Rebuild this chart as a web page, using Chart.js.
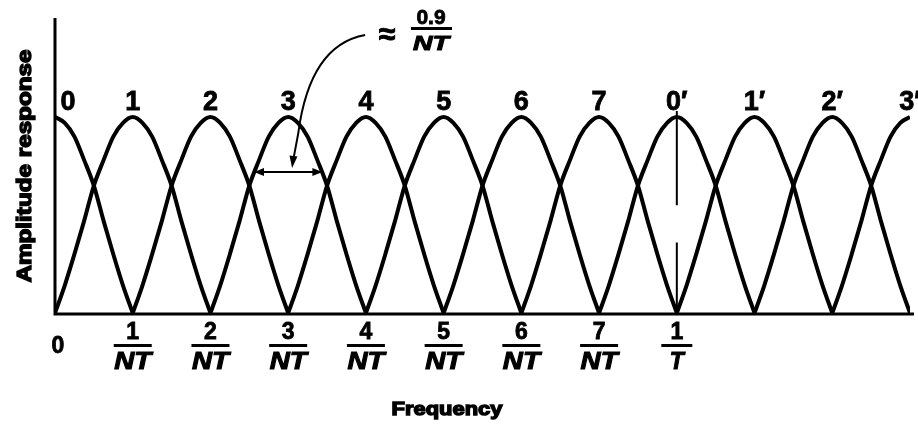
<!DOCTYPE html>
<html>
<head>
<meta charset="utf-8">
<script src="https://cdn.jsdelivr.net/npm/chart.js@4.4.1/dist/chart.umd.min.js"></script>
<style>
    body { margin: 0; background: #fff; }
    canvas { display: block; }
</style>
</head>
<body>
<canvas id="chart" width="918" height="430"></canvas>
<script>
// ===== Data =====
// filter centres in units of 1/NT (N = 8, so 8 is 1/T)
const lobeCenters = [0, 1, 2, 3, 4, 5, 6, 7, 8, 9, 10, 11];
const lobeNames = ["0", "1", "2", "3", "4", "5", "6", "7", "0\u2032", "1\u2032", "2\u2032", "3\u2032"];
// shape of one main lobe, offset from its centre -> relative amplitude
const lobeOffsets = [-1, -0.875, -0.75, -0.625, -0.5, -0.375, -0.25, -0.125, 0, 0.125, 0.25, 0.375, 0.5, 0.625, 0.75, 0.875, 1];
const lobeHeights = [0, 0.14, 0.30, 0.47, 0.65, 0.78, 0.90, 0.97, 1, 0.97, 0.90, 0.78, 0.65, 0.47, 0.30, 0.14, 0];
// x-axis tick labels (fractions)
const tickValues = [1, 2, 3, 4, 5, 6, 7, 8];
const tickNumerators = ["1", "2", "3", "4", "5", "6", "7", "1"];
const tickDenominators = ["NT", "NT", "NT", "NT", "NT", "NT", "NT", "T"];
const xMax = 11;

const FONT = "'Liberation Sans', Arial, sans-serif";

// draw text squeezed/stretched to a given width, optionally extra heavy
function stretchText(ctx, text, x, y, width, heavy) {
    const w = ctx.measureText(text).width;
    ctx.save();
    ctx.translate(x, y);
    ctx.scale(width / w, 1);
    ctx.textAlign = "center";
    ctx.fillText(text, 0, 0);
    if (heavy) {
        ctx.lineWidth = heavy;
        ctx.strokeText(text, 0, 0);
    }
    ctx.restore();
}

function heavyText(ctx, text, x, y, weight) {
    ctx.fillText(text, x, y);
    ctx.save();
    ctx.lineWidth = weight;
    ctx.strokeText(text, x, y);
    ctx.restore();
}

function arrowHead(ctx, x, y, angle, len, half) {
    ctx.save();
    ctx.translate(x, y);
    ctx.rotate(angle);
    ctx.beginPath();
    ctx.moveTo(0, 0);
    ctx.lineTo(-len, -half);
    ctx.lineTo(-len, half);
    ctx.closePath();
    ctx.fill();
    ctx.restore();
}

// ===== Axes, labels and notes =====
const decorations = {
    id: "decorations",
    afterDatasetsDraw(chart) {
        const { ctx, chartArea, scales } = chart;
        const X = v => scales.x.getPixelForValue(v);
        const Y = v => scales.y.getPixelForValue(v);
        ctx.save();
        ctx.fillStyle = "#000";
        ctx.strokeStyle = "#000";

        // axis lines
        ctx.lineWidth = 3;
        ctx.beginPath();
        ctx.moveTo(chartArea.left, chartArea.top - 1);
        ctx.lineTo(chartArea.left, chartArea.bottom + 1);
        ctx.lineTo(chartArea.right + 4, chartArea.bottom + 1);
        ctx.stroke();

        // lobe numbers
        ctx.font = "bold 27px " + FONT;
        ctx.textBaseline = "alphabetic";
        ctx.textAlign = "center";
        lobeCenters.forEach((c, i) => {
            const px = Math.max(X(c), chartArea.left + 13);
            heavyText(ctx, lobeNames[i], px, Y(1) - 7, 0.8);
        });

        // tick labels
        ctx.textBaseline = "middle";
        ctx.font = "bold 23px " + FONT;
        heavyText(ctx, "0", X(0) + 3, chartArea.bottom + 34, 0.8);
        tickValues.forEach((v, i) => {
            const px = X(v);
            const den = tickDenominators[i];
            const barW = den.length > 1 ? 38 : 31;
            ctx.font = "bold 23px " + FONT;
            heavyText(ctx, tickNumerators[i], px, chartArea.bottom + 20, 0.8);
            ctx.fillRect(px - barW / 2, chartArea.bottom + 31, barW, 3);
            ctx.font = "italic bold 23px " + FONT;
            stretchText(ctx, den, px, chartArea.bottom + 50, den.length > 1 ? 37 : 14, 1);
        });

        // axis titles
        ctx.font = "bold 19px " + FONT;
        stretchText(ctx, "Frequency", 447, 410, 111, 1.4);
        ctx.save();
        ctx.translate(25, 166);
        ctx.rotate(-Math.PI / 2);
        ctx.font = "bold 20px " + FONT;
        stretchText(ctx, "Amplitude response", 0, 0, 233, 1.4);
        ctx.restore();

        // marker at 1/T
        ctx.lineWidth = 2;
        ctx.beginPath();
        ctx.moveTo(X(8), Y(1.03));
        ctx.lineTo(X(8), Y(0.55));
        ctx.moveTo(X(8), Y(0.36));
        ctx.lineTo(X(8), Y(0));
        ctx.stroke();

        // bandwidth arrow across lobe 3
        const ay = Y(0.72);
        const ax0 = X(2.56), ax1 = X(3.44);
        ctx.beginPath();
        ctx.moveTo(ax0 + 4, ay);
        ctx.lineTo(ax1 - 4, ay);
        ctx.stroke();
        arrowHead(ctx, ax0, ay, Math.PI, 10, 4);
        arrowHead(ctx, ax1, ay, 0, 10, 4);

        // curved leader from the note
        const sx = X(3.99), sy = Y(1.418);
        const mx = X(3.13), my = Y(0.918);
        ctx.beginPath();
        ctx.moveTo(sx, sy);
        ctx.quadraticCurveTo(X(3.28), Y(1.367), mx, my);
        ctx.lineTo(X(3.06), Y(0.77));
        ctx.stroke();
        arrowHead(ctx, X(3.05), Y(0.74), Math.PI / 2 + 0.12, 12, 4);

        // "≈ 0.9 / NT" note
        ctx.font = "bold 30px " + FONT;
        ctx.textBaseline = "middle";
        heavyText(ctx, "\u2248", 387, 36, 1);
        ctx.font = "bold 21px " + FONT;
        heavyText(ctx, "0.9", 431, 18, 0.8);
        ctx.fillRect(411, 27, 41, 3);
        ctx.font = "italic bold 21px " + FONT;
        stretchText(ctx, "NT", 431, 44, 36, 1);

        ctx.restore();
    }
};

// ===== Chart =====
const datasets = lobeCenters.map(c => ({
    data: lobeOffsets
        .map((o, i) => ({ x: c + o, y: lobeHeights[i] }))
        .filter(p => p.x >= 0 && p.x <= xMax),
    borderColor: "#000",
    borderWidth: 4,
    pointRadius: 0,
    fill: false,
    cubicInterpolationMode: "monotone"
}));

new Chart(document.getElementById("chart").getContext("2d"), {
    type: "line",
    data: { datasets },
    options: {
        responsive: false,
        devicePixelRatio: 1,
        animation: false,
        layout: { padding: { left: 55, right: 8, top: 19, bottom: 117 } },
        plugins: { legend: { display: false }, tooltip: { enabled: false } },
        scales: {
            x: { type: "linear", min: 0, max: xMax, display: false },
            y: { min: 0, max: 1.5, display: false }
        }
    },
    plugins: [decorations]
});
</script>
</body>
</html>
